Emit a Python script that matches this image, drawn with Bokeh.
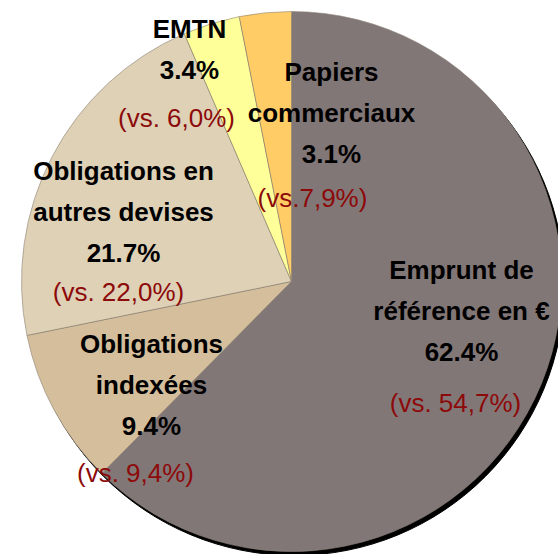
import numpy as np
from bokeh.plotting import figure
from bokeh.models import ColumnDataSource, Range1d
from bokeh.core.properties import value
from bokeh.embed import file_html
from bokeh.resources import INLINE

# ---- data ----
categories = ["Emprunt de\nréférence en €", "Obligations\nindexées",
              "Obligations en\nautres devises", "EMTN", "Papiers\ncommerciaux"]
shares = [62.4, 9.4, 21.7, 3.4, 3.1]
previous = ["(vs. 54,7%)", "(vs. 9,4%)", "(vs. 22,0%)", "(vs. 6,0%)", "(vs.7,9%)"]

# ---- style / layout ----
colors = ["#827777", "#D4BE9B", "#DED1B6", "#FFFF99", "#FFCC66"]
W, H = 558, 554
CX, CY, R = 291, 273, 270
# label anchors in page pixels (x, y of first line), red line x and gap
label_anchor = [(461, 269), (151, 343), (123, 170), (189, 28), (331, 71)]
red_x = [455, 135, 118, 176, 312]
red_gap = [51, 47, 39, 48, 44]
LINE = 41
FONT = value("Liberation Sans")

frac = np.array(shares) / np.sum(shares)
cum = np.concatenate([[0], np.cumsum(frac)])
start = np.pi / 2 - 2 * np.pi * cum[:-1]
end = np.pi / 2 - 2 * np.pi * cum[1:]

p = figure(width=W, height=H, output_backend="svg", toolbar_location=None,
           x_range=Range1d(0, W), y_range=Range1d(0, H), min_border=0)
p.axis.visible = False
p.grid.visible = False
p.outline_line_color = None
p.background_fill_color = "white"

# shadow
p.wedge(x=CX + 3, y=CY - 4, radius=R, start_angle=0, end_angle=2 * np.pi,
        color="black")

src = ColumnDataSource(dict(start=start, end=end, color=colors))
p.wedge(x=CX, y=CY, radius=R, start_angle="start", end_angle="end",
        direction="clock", fill_color="color", line_color="#8f8578",
        line_width=0.6, source=src)

def py(img_y):
    return H - img_y

bx, by, btxt = [], [], []
rx, ry, rtxt = [], [], []
for i, name in enumerate(categories):
    ax, ay = label_anchor[i]
    lines = name.split("\n") + [f"{shares[i]:.1f}%"]
    for j, ln in enumerate(lines):
        bx.append(ax)
        by.append(py(ay + j * LINE))
        btxt.append(ln)
    last_y = ay + (len(lines) - 1) * LINE
    rx.append(red_x[i])
    ry.append(py(last_y + red_gap[i]))
    rtxt.append(previous[i])

p.text(x=bx, y=by, text=btxt, text_font=FONT, text_font_style="bold",
       text_font_size="26px", text_align="center", text_baseline="middle",
       text_color="black")
p.text(x=rx, y=ry, text=rtxt, text_font=FONT, text_font_size="26px",
       text_align="center", text_baseline="middle", text_color="#8C0A0A")

open("out.html", "w").write(file_html(p, INLINE))
